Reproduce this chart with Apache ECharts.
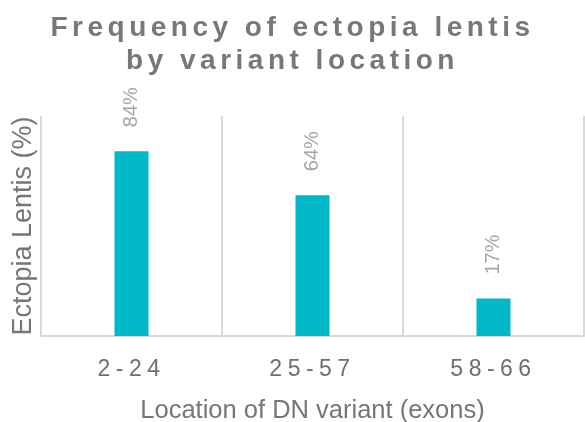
<!DOCTYPE html>
<html>
<head>
<meta charset="utf-8">
<script src="https://cdn.jsdelivr.net/npm/echarts@6/dist/echarts.min.js"></script>
<style>html,body{margin:0;padding:0;background:#fff}#c{width:585px;height:422px}</style>
</head>
<body>
<div id="c"></div>
<script>
const categories = ['2-24', '25-57', '58-66'];
const ectopiaLentisPct = [84, 64, 17];
const titleText = 'Frequency of ectopia lentis\nby variant location';
const xAxisName = 'Location of DN variant (exons)';
const yAxisName = 'Ectopia Lentis (%)';

// letter spacing by font size (rendering style only)
const spacingBySize = { '28px': '4.5px', '23px': '5.5px' };
(function () {
  const proto = CanvasRenderingContext2D.prototype;
  const orig = proto.fillText;
  proto.fillText = function (t, x, y, w) {
    const m = /([\d.]+px)/.exec(this.font || '');
    const sp = m && spacingBySize[m[1]];
    if ('letterSpacing' in this) this.letterSpacing = sp || '0px';
    return w === undefined ? orig.call(this, t, x, y) : orig.call(this, t, x, y, w);
  };
})();

const FF = 'Liberation Sans, Arial, sans-serif';
const chart = echarts.init(document.getElementById('c'), null, { renderer: 'canvas' });
chart.setOption({
  animation: false,
  backgroundColor: '#ffffff',
  title: {
    text: titleText,
    left: 'center',
    top: 7,
    textStyle: { fontFamily: FF, fontSize: 28, fontWeight: 'bold', color: '#77787b', lineHeight: 33 }
  },
  grid: { left: 41, right: 1, top: 116, bottom: 86, containLabel: false, outerBoundsMode: 'none' },
  xAxis: {
    type: 'category',
    data: categories,
    axisLine: { show: true, lineStyle: { color: '#d9d9d9', width: 2 } },
    axisTick: { show: false },
    splitLine: { show: true, lineStyle: { color: '#d9d9d9', width: 2 } },
    axisLabel: { margin: 22, fontFamily: FF, fontSize: 23, color: '#6f6f6f' },
    name: xAxisName,
    nameLocation: 'middle',
    nameGap: 62,
    nameTextStyle: { fontFamily: FF, fontSize: 25.5, color: '#767676' }
  },
  yAxis: {
    type: 'value',
    min: 0,
    max: 100,
    axisLine: { show: false },
    axisTick: { show: false },
    axisLabel: { show: false },
    splitLine: { show: false },
    name: yAxisName,
    nameLocation: 'middle',
    nameGap: 4,
    nameTextStyle: { fontFamily: FF, fontSize: 27, color: '#767676' }
  },
  series: [{
    type: 'bar',
    data: ectopiaLentisPct,
    barWidth: 34,
    itemStyle: { color: '#00b8c8' },
    label: {
      show: true,
      position: 'top',
      rotate: 90,
      align: 'left',
      verticalAlign: 'middle',
      distance: 24,
      formatter: p => p.value + '%',
      fontFamily: FF,
      fontSize: 20,
      color: '#a6a6a6'
    }
  }]
});
</script>
</body>
</html>
